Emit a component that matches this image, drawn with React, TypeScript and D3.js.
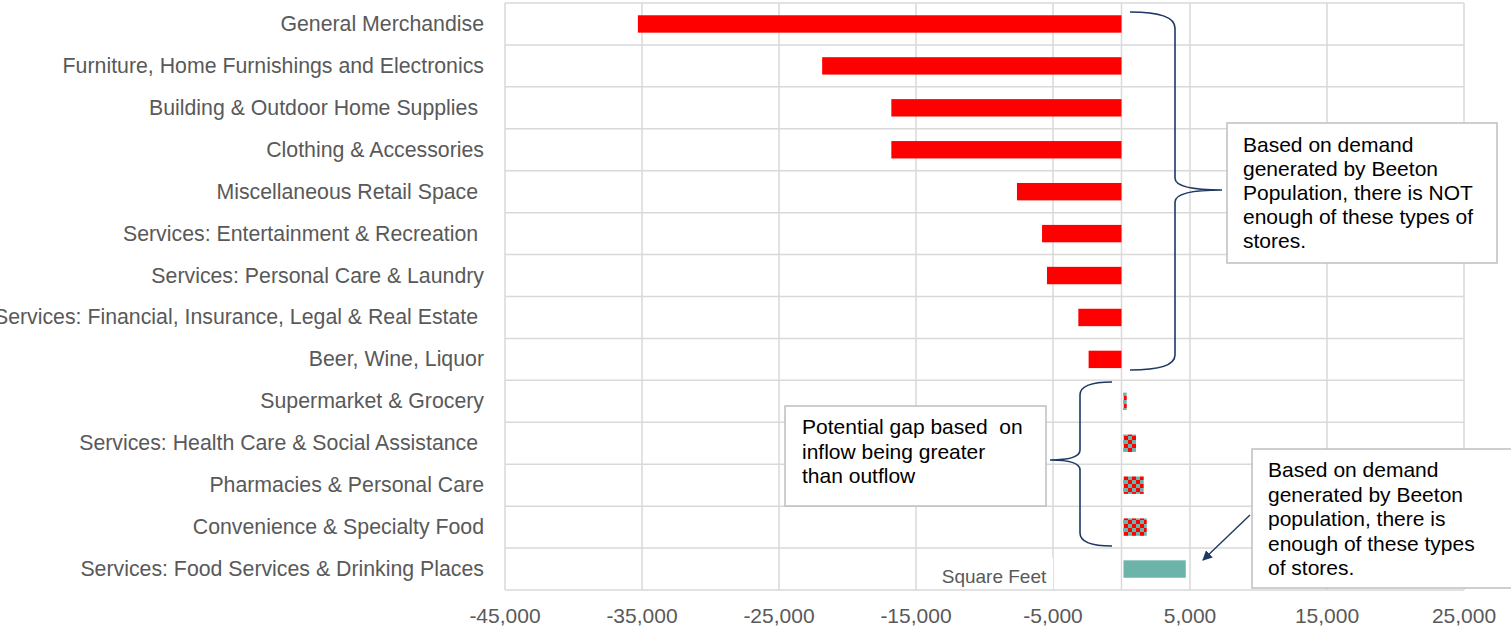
import React from "react";
import * as d3 from "d3";

const categories = [
  "General Merchandise",
  "Furniture, Home Furnishings and Electronics",
  "Building & Outdoor Home Supplies ",
  "Clothing & Accessories",
  "Miscellaneous Retail Space ",
  "Services: Entertainment & Recreation ",
  "Services: Personal Care & Laundry",
  "Services: Financial, Insurance, Legal & Real Estate ",
  "Beer, Wine, Liquor",
  "Supermarket & Grocery",
  "Services: Health Care & Social Assistance ",
  "Pharmacies & Personal Care",
  "Convenience & Specialty Food",
  "Services: Food Services & Drinking Places",
];

const values = [
  -35300, -21850, -16800, -16800, -7630, -5800, -5440, -3150, -2400, 380, 1060, 1620, 1840, 4690,
];

// fill kind per category: "solid" red, "check" checkered, "teal" solid teal
const fillKinds = [
  "solid", "solid", "solid", "solid", "solid", "solid", "solid", "solid", "solid",
  "check", "check", "check", "check", "teal",
];

const tickValues = [-45000, -35000, -25000, -15000, -5000, 5000, 15000, 25000];

const note1 = [
  "Based on demand",
  "generated by Beeton",
  "Population, there is NOT",
  "enough of these types of",
  "stores.",
];
const note2 = ["Potential gap based  on", "inflow being greater", "than outflow"];
const note3 = [
  "Based on demand",
  "generated by Beeton",
  "population, there is",
  "enough of these types",
  "of stores.",
];

const W = 1511;
const H = 631;
const RED = "#ff0000";
const TEAL = "#6cb4a9";
const GRID = "#d9d9d9";
const NAVY = "#1f3864";
const LABEL = "#595959";
const FONT = "'Liberation Sans', Arial, sans-serif";

const fmt = (v: number) => d3.format(",")(v).replace("\u2212", "-");

export default function App() {
  const x = d3.scaleLinear().domain([-45000, 25000]).range([505, 1464]);
  const y = d3.scaleBand<string>().domain(categories).range([3, 590]).padding(0);
  const bw = y.bandwidth();
  const barH = bw * 0.415;
  const gridX = [...tickValues, 0];
  const rowLines = [...categories.map((c) => y(c) as number), 590];

  return (
    <div style={{ position: "fixed", left: 0, top: 0, width: W, height: H, background: "#fff" }}>
      <svg width={W} height={H} style={{ display: "block", fontFamily: FONT }}>
        <defs>
          <pattern id="checker" patternUnits="userSpaceOnUse" width={8} height={8}>
            <rect width={8} height={8} fill={RED} />
            <rect x={4} y={0} width={4} height={4} fill={TEAL} />
            <rect x={0} y={4} width={4} height={4} fill={TEAL} />
          </pattern>
          <marker id="arrow" viewBox="0 0 10 10" refX={9} refY={5} markerWidth={7} markerHeight={7} orient="auto" markerUnits="strokeWidth">
            <path d="M0,0 L10,5 L0,10 z" fill={NAVY} />
          </marker>
        </defs>
        <rect width={W} height={H} fill="#fff" />

        {/* gridlines */}
        {rowLines.map((yy, i) => (
          <line key={"h" + i} x1={505} x2={1464} y1={yy} y2={yy} stroke={GRID} strokeWidth={1.5} />
        ))}
        {gridX.map((v, i) => (
          <line key={"v" + i} x1={x(v)} x2={x(v)} y1={3} y2={590} stroke={GRID} strokeWidth={1.5} />
        ))}

        {/* bars */}
        {categories.map((c, i) => {
          const v = values[i];
          const yy = (y(c) as number) + (bw - barH) / 2;
          const k = fillKinds[i];
          const fill = k === "solid" ? RED : k === "teal" ? TEAL : "url(#checker)";
          const x0 = v < 0 ? x(v) : x(0) + 2;
          const w = v < 0 ? x(0) - x(v) : x(v) - x(0) - 2;
          return <rect key={c} x={x0} y={yy} width={Math.max(w, 1)} height={barH} fill={fill} />;
        })}

        {/* category labels */}
        {categories.map((c) => (
          <text
            key={"l" + c}
            x={484}
            y={(y(c) as number) + bw / 2 + 7}
            textAnchor="end"
            fontSize={21.3}
            fill={LABEL}
            style={{ whiteSpace: "pre" }}
          >
            {c}
          </text>
        ))}

        {/* x tick labels */}
        {tickValues.map((t) => (
          <text key={"t" + t} x={x(t)} y={623} textAnchor="middle" fontSize={21} fill={LABEL}>
            {fmt(t)}
          </text>
        ))}

        {/* axis title */}
        <rect x={933} y={558} width={120} height={31} fill="#fff" />
        <text x={994} y={583} textAnchor="middle" fontSize={19} fill={LABEL}>
          Square Feet
        </text>

        {/* braces */}
        <path
          d="M1130,12 Q1175,12 1175,28 L1175,178 Q1175,190 1222,190 M1222,190 Q1175,190 1175,202 L1175,355 Q1175,370 1130,370"
          fill="none"
          stroke={NAVY}
          strokeWidth={1.6}
        />
        <path
          d="M1112,382 Q1080,382 1080,395 L1080,450 Q1080,460 1050,460 M1050,460 Q1080,460 1080,470 L1080,533 Q1080,546 1112,546"
          fill="none"
          stroke={NAVY}
          strokeWidth={1.6}
        />

        {/* arrow */}
        <line x1={1250} y1={515} x2={1203} y2={560} stroke={NAVY} strokeWidth={1.4} markerEnd="url(#arrow)" />

        {/* note boxes */}
        <rect x={1227} y={123} width={270} height={140} fill="#fff" stroke="#bfbfbf" strokeWidth={1.5} />
        {note1.map((s, i) => (
          <text key={"n1" + i} x={1243} y={152 + i * 24} fontSize={21} fill="#000">
            {s}
          </text>
        ))}

        <rect x={785} y={406} width={261} height={100} fill="#fff" stroke="#bfbfbf" strokeWidth={1.5} />
        {note2.map((s, i) => (
          <text key={"n2" + i} x={802} y={434 + i * 24.5} fontSize={21} fill="#000" style={{ whiteSpace: "pre" }}>
            {s}
          </text>
        ))}

        <rect x={1252} y={449} width={270} height={139} fill="#fff" stroke="#bfbfbf" strokeWidth={1.5} />
        {note3.map((s, i) => (
          <text key={"n3" + i} x={1268} y={477 + i * 24.5} fontSize={21} fill="#000">
            {s}
          </text>
        ))}
      </svg>
    </div>
  );
}
